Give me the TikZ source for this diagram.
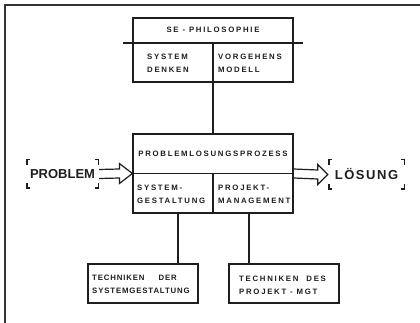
\documentclass[tikz,border=0pt]{standalone}
\usepackage{fontspec}
\setmainfont{Liberation Sans}
\newfontfamily\labfont{Liberation Sans}[LetterSpace=22, UprightFont={* Bold}]
\newfontfamily\labfontn{Liberation Sans}[LetterSpace=11, UprightFont={* Bold}]
\newfontfamily\bigfont{Liberation Sans}[UprightFont={* Bold}]
\newfontfamily\bigfontw{Liberation Sans}[LetterSpace=12, UprightFont={* Bold}]
\definecolor{ink}{HTML}{1E1E1E}
\tikzset{
  box/.style={draw=ink, line width=1.2pt, rectangle, inner sep=0pt},
  lab/.style={font=\labfont\fontsize{7.8}{13}\selectfont, text=ink, inner sep=0pt, align=left},
  labn/.style={font=\labfontn\fontsize{7.8}{13}\selectfont, text=ink, inner sep=0pt, align=left},
  conn/.style={draw=ink, line width=1.2pt},
  hollow/.style={draw=ink, line width=1.2pt, line join=miter},
  brk/.style={draw=ink, line width=1.4pt},
  frame/.style={draw=black!80, line width=1.6pt}
}
\begin{document}
\begin{tikzpicture}[x=1pt, y=-1pt]
\useasboundingbox (0,0) rectangle (420,323);
\fill[white] (0,0) rectangle (420,323);
% outer frame (only top and left visible)
\draw[frame] (420,5) -- (5,5) -- (5,323);

% SE-Philosophie box
\node[box, minimum width=160pt, minimum height=64pt] (se) at (213,50) {};
\coordinate (seL) at (123,43);
\coordinate (seR) at (303,43);
\coordinate (seM) at (213,43);
\draw[conn] (seL) -- (seR);
\draw[conn] (seM) -- (se.south);
\node[lab] (sephil) at (213,30) {SE - PHILOSOPHIE};
\node[lab, anchor=west] (sysden) at (147,63.5) {SYSTEM\\DENKEN};
\node[lab, anchor=west] (vorgeh) at (218,63.5) {VORGEHENS\\MODELL};

% Problemloesungsprozess box
\node[box, minimum width=160pt, minimum height=79pt] (mid) at (213,173.5) {};
\draw[conn] (mid.west) -- (mid.east);
\draw[conn] (mid.center) -- (mid.south);
\node[lab] (plp) at (213,154) {PROBLEMLOSUNGSPROZESS};
\node[lab, anchor=west] (sysgest) at (137,194) {SYSTEM-\\GESTALTUNG};
\node[lab, anchor=west] (projman) at (218,194) {PROJEKT-\\MANAGEMENT};

\draw[conn] (se.south) -- (mid.north);

% bottom boxes
\node[box, minimum width=110pt, minimum height=39pt] (tsys) at (143,283.5) {};
\node[box, minimum width=110pt, minimum height=39pt] (tproj) at (284,283.5) {};
\node[labn, anchor=west] (tsyst) at (92,284) {TECHNIKEN\hspace{14pt}DER\\SYSTEMGESTALTUNG};
\node[lab, anchor=west] (tprojt) at (239,285) {TECHNIKEN\hspace{8pt}DES\\PROJEKT - MGT};
\coordinate (c1) at (178,213);
\coordinate (c2) at (249,213);
\draw[conn] (c1) -- (c1 |- tsys.north);
\draw[conn] (c2) -- (c2 |- tproj.north);

% PROBLEM and LOESUNG
\node[inner sep=0pt, minimum width=71pt, minimum height=28pt, font=\bigfont\fontsize{13}{15}\selectfont, text=ink] (prob) at (62.5,174) {PROBLEM};
\node[inner sep=0pt, minimum width=75pt, minimum height=29pt, font=\bigfontw\fontsize{13}{15}\selectfont, text=ink] (loes) at (366.5,174.5) {LÖSUNG};

\foreach \n in {prob,loes}{
  \draw[brk] ([yshift=-5pt]\n.north west) -- (\n.north west) -- ([xshift=3pt]\n.north west);
  \draw[brk] ([yshift=-5pt]\n.north east) -- (\n.north east) -- ([xshift=-3pt]\n.north east);
  \draw[brk] ([yshift=5pt]\n.south west) -- (\n.south west) -- ([xshift=3pt]\n.south west);
  \draw[brk] ([yshift=5pt]\n.south east) -- (\n.south east) -- ([xshift=-3pt]\n.south east);
}

% hollow double arrows
\draw[hollow] ([xshift=1pt,yshift=4.5pt]prob.east) -- ([xshift=-13pt,yshift=4.5pt]mid.west)
  -- ([xshift=-13pt,yshift=10pt]mid.west) -- (mid.west)
  -- ([xshift=-13pt,yshift=-10pt]mid.west) -- ([xshift=-13pt,yshift=-4.5pt]mid.west)
  -- ([xshift=1pt,yshift=-4.5pt]prob.east);
\draw[hollow] ([yshift=4.5pt]mid.east) -- ([xshift=-11pt,yshift=4.5pt]loes.west)
  -- ([xshift=-11pt,yshift=10pt]loes.west) -- ([xshift=-1pt]loes.west)
  -- ([xshift=-11pt,yshift=-10pt]loes.west) -- ([xshift=-11pt,yshift=-4.5pt]loes.west)
  -- ([yshift=-4.5pt]mid.east);
\end{tikzpicture}
\end{document}
